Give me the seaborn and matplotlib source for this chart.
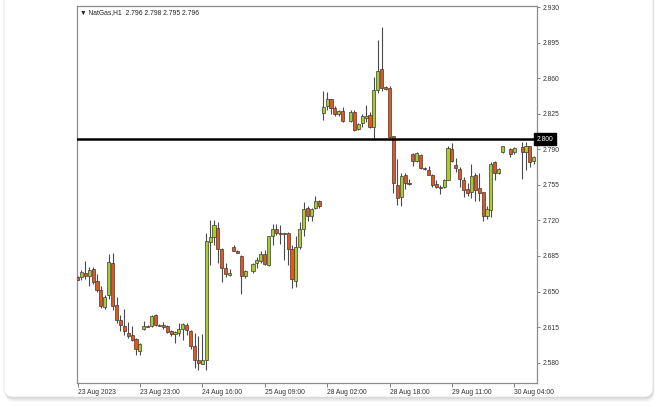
import numpy as np
import pandas as pd
import seaborn as sns
import matplotlib
matplotlib.use("Agg")
import matplotlib.pyplot as plt
from matplotlib.patches import FancyBboxPatch

# ---------------- data ----------------
opens = [2.664, 2.664, 2.668, 2.665, 2.672, 2.660, 2.652, 2.635, 2.647, 2.678,
         2.637, 2.622, 2.616, 2.609, 2.607, 2.603, 2.591, 2.613, 2.616, 2.616,
         2.627, 2.617, 2.617, 2.616, 2.611, 2.608, 2.609, 2.613, 2.617, 2.611,
         2.596, 2.583, 2.579, 2.583, 2.699, 2.704, 2.713, 2.692, 2.673, 2.666,
         2.694, 2.690, 2.685, 2.665, None, 2.670, 2.678, 2.680, 2.687, 2.676,
         2.705, 2.712, 2.708, 2.708, 2.708, 2.692, 2.660, 2.694, 2.712, 2.732,
         2.724, 2.732, 2.739, 2.826, 2.833, 2.839, 2.831, 2.825, 2.828, None,
         2.818, 2.827, 2.810, 2.816, 2.821, 2.824, 2.812, 2.848, 2.869, 2.851,
         2.850, 2.803, 2.755, 2.743, 2.765, 2.757, 2.785, 2.778, 2.784, 2.772,
         2.770, 2.765, 2.756, 2.753, 2.753, 2.760, 2.790, 2.775, 2.771, 2.760,
         2.751, 2.748, 2.765, 2.752, 2.748, 2.724, 2.730, 2.777, 2.767, 2.787,
         None, 2.790, 2.787, None, 2.792, 2.787, 2.793, 2.778]
highs = [2.665, 2.671, 2.680, 2.674, 2.674, 2.667, 2.655, 2.647, 2.687, 2.688,
         2.645, 2.627, 2.633, 2.620, 2.616, 2.604, 2.599, 2.621, 2.617, 2.627,
         2.628, 2.618, 2.620, 2.617, 2.612, 2.611, 2.619, 2.619, 2.619, 2.612,
         2.609, 2.606, 2.608, 2.708, 2.720, 2.720, 2.718, 2.693, 2.678, 2.672,
         2.696, 2.691, 2.686, 2.671, None, 2.678, 2.684, 2.690, 2.691, 2.705,
         2.716, 2.716, 2.715, 2.708, 2.709, 2.696, 2.705, 2.718, 2.738, 2.734,
         2.732, 2.744, 2.740, 2.847, 2.846, 2.839, 2.833, 2.829, 2.832, None,
         2.829, 2.829, 2.816, 2.825, 2.834, 2.827, 2.861, 2.898, 2.910, 2.852,
         2.852, 2.803, 2.780, 2.767, 2.767, 2.761, 2.786, 2.787, 2.785, 2.773,
         2.774, 2.766, 2.760, 2.755, 2.761, 2.793, 2.796, 2.781, 2.773, 2.763,
         2.757, 2.776, 2.767, 2.767, 2.748, 2.734, 2.777, 2.778, 2.772, 2.793,
         None, 2.791, 2.792, None, 2.797, 2.797, 2.793, 2.783]
lows = [2.661, 2.661, 2.662, 2.655, 2.657, 2.650, 2.634, 2.633, 2.643, 2.632,
        2.619, 2.611, 2.607, 2.604, 2.601, 2.588, 2.588, 2.612, 2.615, 2.615,
        2.616, 2.616, 2.613, 2.609, 2.606, 2.599, 2.606, 2.602, 2.607, 2.593,
        2.575, 2.573, 2.579, 2.573, 2.676, 2.696, 2.678, 2.659, 2.664, 2.665,
        2.690, 2.688, 2.648, 2.663, None, 2.668, 2.673, 2.678, 2.676, 2.675,
        2.696, 2.706, 2.697, 2.681, 2.676, 2.653, 2.654, 2.692, 2.705, 2.719,
        2.719, 2.731, 2.732, 2.819, 2.829, 2.825, 2.823, 2.823, 2.817, None,
        2.817, 2.808, 2.809, 2.812, 2.817, 2.811, 2.799, 2.845, 2.847, 2.848,
        2.799, 2.747, 2.735, 2.734, 2.751, 2.755, 2.774, 2.777, 2.771, 2.770,
        2.765, 2.753, 2.752, 2.746, 2.752, 2.760, 2.777, 2.768, 2.753, 2.743,
        2.744, 2.742, 2.739, 2.739, 2.719, 2.721, 2.723, 2.760, 2.766, 2.786,
        None, 2.782, 2.785, None, 2.761, 2.770, 2.773, 2.776]
closes = [2.661, 2.669, 2.665, 2.671, 2.659, 2.652, 2.636, 2.645, 2.679, 2.636,
          2.622, 2.617, 2.611, 2.606, 2.602, 2.593, 2.598, 2.616, 2.615, 2.626,
          2.617, 2.616, 2.615, 2.610, 2.608, 2.610, 2.613, 2.618, 2.612, 2.596,
          2.583, 2.580, 2.583, 2.700, 2.704, 2.715, 2.692, 2.673, 2.667, 2.668,
          2.690, 2.688, 2.665, 2.670, None, 2.677, 2.681, 2.687, 2.677, 2.705,
          2.712, 2.708, 2.707, 2.707, 2.692, 2.662, 2.694, 2.712, 2.731, 2.724,
          2.731, 2.739, 2.734, 2.832, 2.839, 2.831, 2.825, 2.828, 2.818, None,
          2.827, 2.809, 2.815, 2.823, 2.823, 2.812, 2.848, 2.867, 2.850, 2.849,
          2.802, 2.757, 2.742, 2.764, 2.757, 2.756, 2.778, 2.786, 2.772, 2.771,
          2.765, 2.755, 2.753, 2.752, 2.760, 2.791, 2.778, 2.772, 2.761, 2.750,
          2.747, 2.764, 2.750, 2.747, 2.724, 2.731, 2.776, 2.767, 2.771, 2.793,
          None, 2.785, 2.791, None, 2.787, 2.793, 2.777, 2.782]

tick_positions = [0, 16, 32, 48, 64, 80, 96, 112]
tick_labels = ["23 Aug 2023", "23 Aug 23:00", "24 Aug 16:00", "25 Aug 09:00",
               "28 Aug 02:00", "28 Aug 18:00", "29 Aug 11:00", "30 Aug 04:00"]
price_ticks = [2.580, 2.615, 2.650, 2.685, 2.720, 2.755, 2.790, 2.825, 2.860, 2.895, 2.930]
level = 2.800
header = "\u25BC NatGas,H1  2.796 2.798 2.795 2.796"

# ---------------- styling ----------------
sns.set_style("white")
plt.rcParams['font.family'] = ['Liberation Sans', 'DejaVu Sans']

UP = '#a9cc2c'
DOWN = '#e4561d'
EDGE = '#3a3a3a'
WICK = '#4a4a4a'
FS = 4.9

W, H = 660, 407
fig = plt.figure(figsize=(W / 100, H / 100), dpi=100)
fig.patch.set_facecolor('white')

# card background with soft shadow
bg = fig.add_axes([0, 0, 1, 1], zorder=-5)
bg.set_xlim(0, W)
bg.set_ylim(H, 0)
bg.axis('off')
for k, a in enumerate([0.05, 0.06, 0.07, 0.09, 0.11]):
    off = 5 - k
    bg.add_patch(FancyBboxPatch((4 + 0.3 * off, -20 + off), 649, 417, 
                                boxstyle="round,pad=0,rounding_size=9",
                                fc='#808080', ec='none', alpha=a))
bg.add_patch(FancyBboxPatch((4, -20), 649, 417, boxstyle="round,pad=0,rounding_size=9",
                            fc='white', ec='#e6e6e6', lw=0.6))

df = pd.DataFrame({'open': opens, 'high': highs, 'low': lows, 'close': closes}, dtype=float)
df['idx'] = np.arange(len(df))
df = df.dropna()

ax = fig.add_axes([77 / W, 1 - 383 / H, 459.7 / W, 377 / H])
ax.set_facecolor('none')

up = df['close'] >= df['open']
# wicks
ax.vlines(df['idx'], df['low'], df['high'], color=WICK, lw=0.8, zorder=2)
# bodies
bottoms = np.minimum(df['open'], df['close'])
heights = np.maximum(np.abs(df['close'] - df['open']), 0.0009)
colors = np.where(up, UP, DOWN)
ax.bar(df['idx'], heights, bottom=bottoms, width=0.78, color=colors,
       edgecolor=EDGE, linewidth=0.5, zorder=3)

# horizontal level line
ax.axhline(level, color='black', lw=1.8, zorder=5)
ax.text(1.0, level, "2.800", transform=ax.get_yaxis_transform(), color='white',
        fontsize=FS, ha='left', va='center', clip_on=False, zorder=10,
        bbox=dict(boxstyle='square,pad=0.35', fc='black', ec='black'))

ax.set_xlim(-0.13, 117.74)
ax.set_ylim(2.5600, 2.9310)

ax.yaxis.tick_right()
ax.set_yticks(price_ticks)
ax.set_yticklabels([f"{v:.3f}" for v in price_ticks])
ax.set_xticks(tick_positions)
ax.set_xticklabels(tick_labels, ha='left')
ax.tick_params(axis='y', which='both', direction='out', length=2.5, width=0.7,
               colors='#808080', labelcolor='#333333', labelsize=FS, pad=1.5,
               left=False, right=True)
ax.tick_params(axis='x', which='both', direction='out', length=3, width=0.7,
               colors='#808080', labelcolor='#333333', labelsize=FS, pad=1.5,
               bottom=True)
for s in ax.spines.values():
    s.set_visible(True)
    s.set_color('#8c8c8c')
    s.set_linewidth(0.9)
ax.grid(False)

fig.text(80 / W, 1 - 13 / H, header, fontsize=FS, color='#222222', ha='left', va='center')

fig.savefig('out.png', dpi=100, facecolor='white')
